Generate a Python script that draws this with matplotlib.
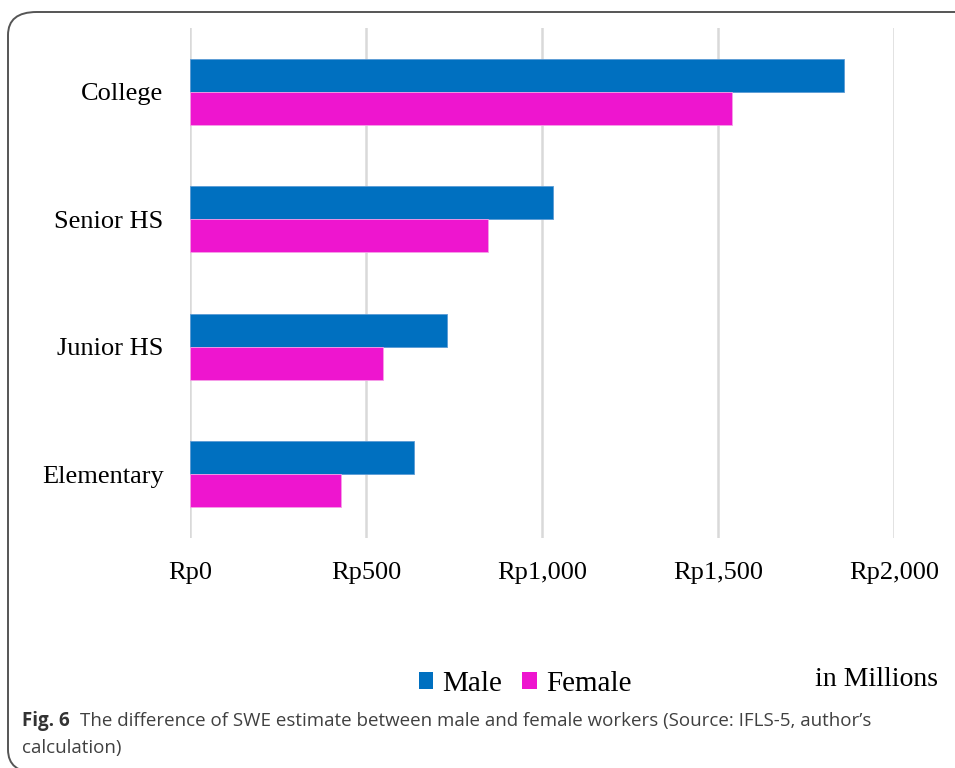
import numpy as np
import matplotlib
matplotlib.use("Agg")
from matplotlib import pyplot as plt
from matplotlib.patches import FancyBboxPatch, Patch

# SWE estimates in millions of Rupiah
levels = ['Elementary', 'Junior HS', 'Senior HS', 'College']
male = [636, 730, 1031, 1858]
female = [429, 548, 847, 1540]
ticks = [0, 500, 1000, 1500, 2000]
tick_labels = ['Rp0', 'Rp500', 'Rp1,000', 'Rp1,500', 'Rp2,000']

male_color = '#0070C0'
female_color = '#EE15CF'
serif = 'Liberation Serif'

fig = plt.figure(figsize=(9.55, 7.68), dpi=100)

# rounded frame around the figure panel
frame = FancyBboxPatch((8 / 955, -0.006), 1.05, 1 - 12 / 768 + 0.006,
                       boxstyle='round,pad=0,rounding_size=0.03',
                       transform=fig.transFigure, fill=False,
                       edgecolor='#555555', linewidth=1.4, clip_on=False)
fig.patches.append(frame)

ax = fig.add_axes([190 / 955, 1 - 538 / 768, (894 - 190) / 955, 510 / 768])

y = np.arange(len(levels))
h = 0.26
ax.barh(y + h / 2, male, height=h, color=male_color, edgecolor='#5B9BD5',
        linewidth=0.6, zorder=3)
ax.barh(y - h / 2, female, height=h, color=female_color, edgecolor='#F5A0E8',
        linewidth=0.6, zorder=3)

ax.set_xlim(0, 2000)
ax.set_ylim(-0.5, 3.5)
ax.set_xticks(ticks)
ax.set_xticklabels(tick_labels, fontsize=19, family=serif)
ax.set_yticks(y)
ax.set_yticklabels(levels, fontsize=19, family=serif)
ax.tick_params(length=0)
ax.tick_params(axis='x', pad=17)
ax.tick_params(axis='y', pad=19)
ax.grid(axis='x', color='#D9D9D9', linewidth=1.8, zorder=0)
for s in ax.spines.values():
    s.set_visible(False)

handles = [Patch(facecolor=male_color, label='Male'),
           Patch(facecolor=female_color, label='Female')]
fig.legend(handles=handles, loc='center', bbox_to_anchor=(525 / 955, 1 - 684 / 768),
           ncol=2, frameon=False, prop={'family': serif, 'size': 21},
           handlelength=0.5, handleheight=0.5, handletextpad=0.3,
           columnspacing=0.7)
fig.text(938 / 955, 1 - 679 / 768, 'in Millions', ha='right', va='center',
         fontsize=20, family=serif)

# caption: bold label followed by regular text
cap_y = 1 - 721 / 768
lab = fig.text(22 / 955, cap_y, 'Fig. 6', ha='left', va='center', fontsize=13.5,
               family='Open Sans', weight='bold', color='#333333')
fig.canvas.draw()
bb = lab.get_window_extent()
fig.text((bb.x1 + 10) / 955, cap_y,
         'The difference of SWE estimate between male and female workers (Source: IFLS-5, author\u2019s',
         ha='left', va='center', fontsize=13.5, family='Open Sans', color='#404040')
fig.text(22 / 955, 1 - 748 / 768, 'calculation)', ha='left', va='center',
         fontsize=13.5, family='Open Sans', color='#404040')

fig.savefig('out.png', dpi=100)
